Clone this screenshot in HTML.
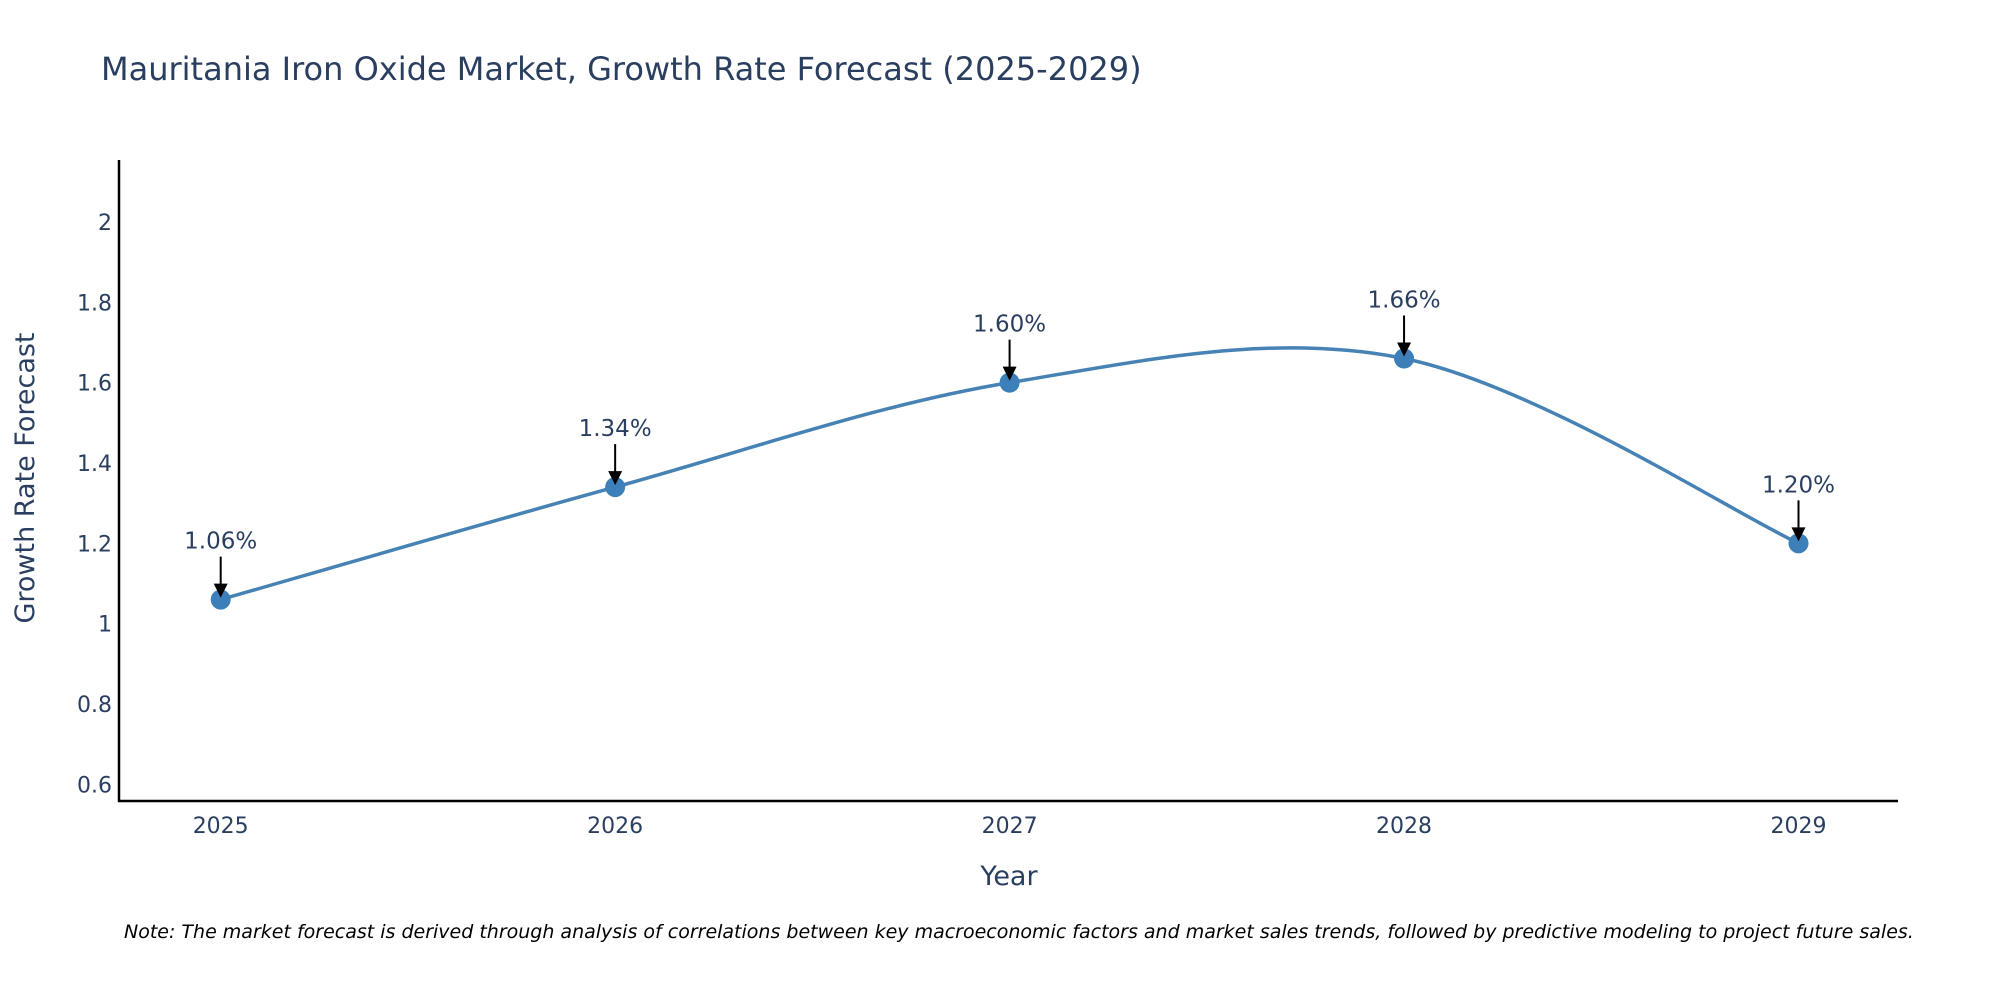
<!DOCTYPE html>
<html><head><meta charset="utf-8"><style>
body{margin:0;background:#fff;overflow:hidden;}
svg text{font-family:"DejaVu Sans","Liberation Sans",sans-serif;}
</style></head><body>
<svg id="chart" width="2000" height="1000" xmlns="http://www.w3.org/2000/svg">
<text x="101" y="80" font-size="32" fill="#2a3f5f">Mauritania Iron Oxide Market, Growth Rate Forecast (2025-2029)</text>
<g id="yticks"></g>
<g id="xticks"></g>
<line x1="119" y1="160" x2="119" y2="802" stroke="#000" stroke-width="2.5"/>
<line x1="118" y1="801" x2="1898" y2="801" stroke="#000" stroke-width="2.5"/>
<text transform="translate(34,478) rotate(-90)" text-anchor="middle" font-size="27" fill="#2a3f5f">Growth Rate Forecast</text>
<text x="1009" y="885" text-anchor="middle" font-size="27" fill="#2a3f5f">Year</text>
<path id="line" fill="none" stroke="#4682b4" stroke-width="3.5"/>
<g id="points"></g>
<text x="124" y="938" font-size="19" font-style="italic" fill="#000">Note: The market forecast is derived through analysis of correlations between key macroeconomic factors and market sales trends, followed by predictive modeling to project future sales.</text>
</svg>
<script>
const years = [2025, 2026, 2027, 2028, 2029];
const growth = [1.06, 1.34, 1.60, 1.66, 1.20];
const labels = ["1.06%", "1.34%", "1.60%", "1.66%", "1.20%"];
const yTicks = [0.6, 0.8, 1, 1.2, 1.4, 1.6, 1.8, 2];
const yTickLabels = ["0.6", "0.8", "1", "1.2", "1.4", "1.6", "1.8", "2"];

const NS = "http://www.w3.org/2000/svg";
function xs(v){ return 220.7 + (v - 2025) * (1798.5 - 220.7) / 4; }
function ys(v){ return 623.7 - (v - 1) * 401.8; }
function mk(tag, attrs, parent){ const e = document.createElementNS(NS, tag); for (const k in attrs) e.setAttribute(k, attrs[k]); parent.appendChild(e); return e; }

const yt = document.getElementById('yticks');
yTicks.forEach((t, i) => {
  const e = mk('text', {x: 112, y: ys(t) + 8, 'text-anchor': 'end', 'font-size': 22, fill: '#2a3f5f'}, yt);
  
  
  e.textContent = yTickLabels[i];
});
const xt = document.getElementById('xticks');
years.forEach(y => {
  const e = mk('text', {x: xs(y), y: 833, 'text-anchor': 'middle', 'font-size': 22, fill: '#2a3f5f'}, xt);
  
  
  e.textContent = String(y);
});

const P = years.map((y, i) => [xs(y), ys(growth[i])]);
let d = 'M' + P[0][0] + ',' + P[0][1];
for (let i = 0; i < P.length - 1; i++) {
  const p0 = P[Math.max(0, i - 1)], p1 = P[i], p2 = P[i + 1], p3 = P[Math.min(P.length - 1, i + 2)];
  const c1 = [p1[0] + (p2[0] - p0[0]) / 6, p1[1] + (p2[1] - p0[1]) / 6];
  const c2 = [p2[0] - (p3[0] - p1[0]) / 6, p2[1] - (p3[1] - p1[1]) / 6];
  d += ' C' + c1 + ' ' + c2 + ' ' + p2;
}
document.getElementById('line').setAttribute('d', d);

const pg = document.getElementById('points');
P.forEach((p, i) => {
  const c = mk('circle', {cx: p[0], cy: p[1], r: 10, fill: '#3d7fb8'}, pg);
  
  
  const a = mk('line', {x1: p[0], y1: p[1] - 43, x2: p[0], y2: p[1] - 14, stroke: '#000', 'stroke-width': 2}, pg);
  
  
  const h = mk('polygon', {points: (p[0]-7)+','+(p[1]-16)+' '+(p[0]+7)+','+(p[1]-16)+' '+p[0]+','+(p[1]-2), fill: '#000'}, pg);
  
  
  const t = mk('text', {x: p[0], y: p[1] - 51, 'text-anchor': 'middle', 'font-size': 23, fill: '#2a3f5f'}, pg);
  
  
  t.textContent = labels[i];
});
</script>
</body></html>
